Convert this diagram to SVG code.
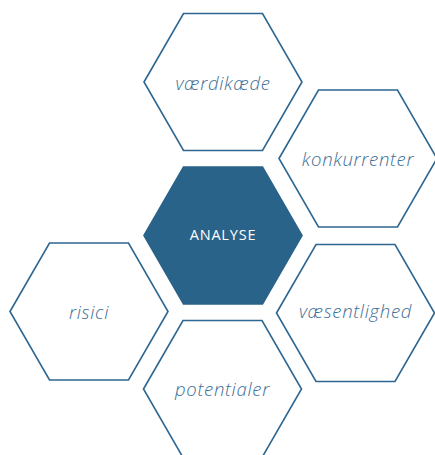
<svg xmlns="http://www.w3.org/2000/svg" xmlns:xlink="http://www.w3.org/1999/xlink" width="435" height="455" viewBox="0 0 435 455">
<style>
.hex{fill:#ffffff;stroke:#2d6690;stroke-width:1.6;stroke-linejoin:miter}
.hexc{fill:#2a6389;stroke:#2a6389;stroke-width:1.6}
.lbl{font-family:"Open Sans",Lato,sans-serif;font-style:italic;font-weight:300;font-size:18.5px;letter-spacing:0.7px;fill:#3d6e96;text-anchor:middle;dominant-baseline:central}
.lblc{font-family:"Open Sans",Lato,sans-serif;font-size:14.5px;letter-spacing:0.8px;fill:#ffffff;text-anchor:middle;dominant-baseline:central}
</style>
<defs>
<polygon id="hx" points="-79,0 -39.5,-68.5 39.5,-68.5 79,0 39.5,68.5 -39.5,68.5"/>
</defs>
<rect width="435" height="455" fill="#ffffff"/>
<g id="connectors"></g>
<g id="vaerdikaede"><use xlink:href="#hx" class="hex" transform="translate(223,82)"/><text class="lbl" x="223" y="82">værdikæde</text></g>
<g id="konkurrenter"><use xlink:href="#hx" class="hex" transform="translate(358,158.5)"/><text class="lbl" x="358" y="158">konkurrenter</text></g>
<g id="analyse"><use xlink:href="#hx" class="hexc" transform="translate(223,235.5)"/><text class="lblc" x="223" y="234">ANALYSE</text></g>
<g id="risici"><use xlink:href="#hx" class="hex" transform="translate(89,311.5)"/><text class="lbl" x="89" y="311">risici</text></g>
<g id="vaesentlighed"><use xlink:href="#hx" class="hex" transform="translate(355.5,313)"/><text class="lbl" x="355.5" y="310">væsentlighed</text></g>
<g id="potentialer"><use xlink:href="#hx" class="hex" transform="translate(222.5,389)"/><text class="lbl" x="222.5" y="388">potentialer</text></g>
</svg>
